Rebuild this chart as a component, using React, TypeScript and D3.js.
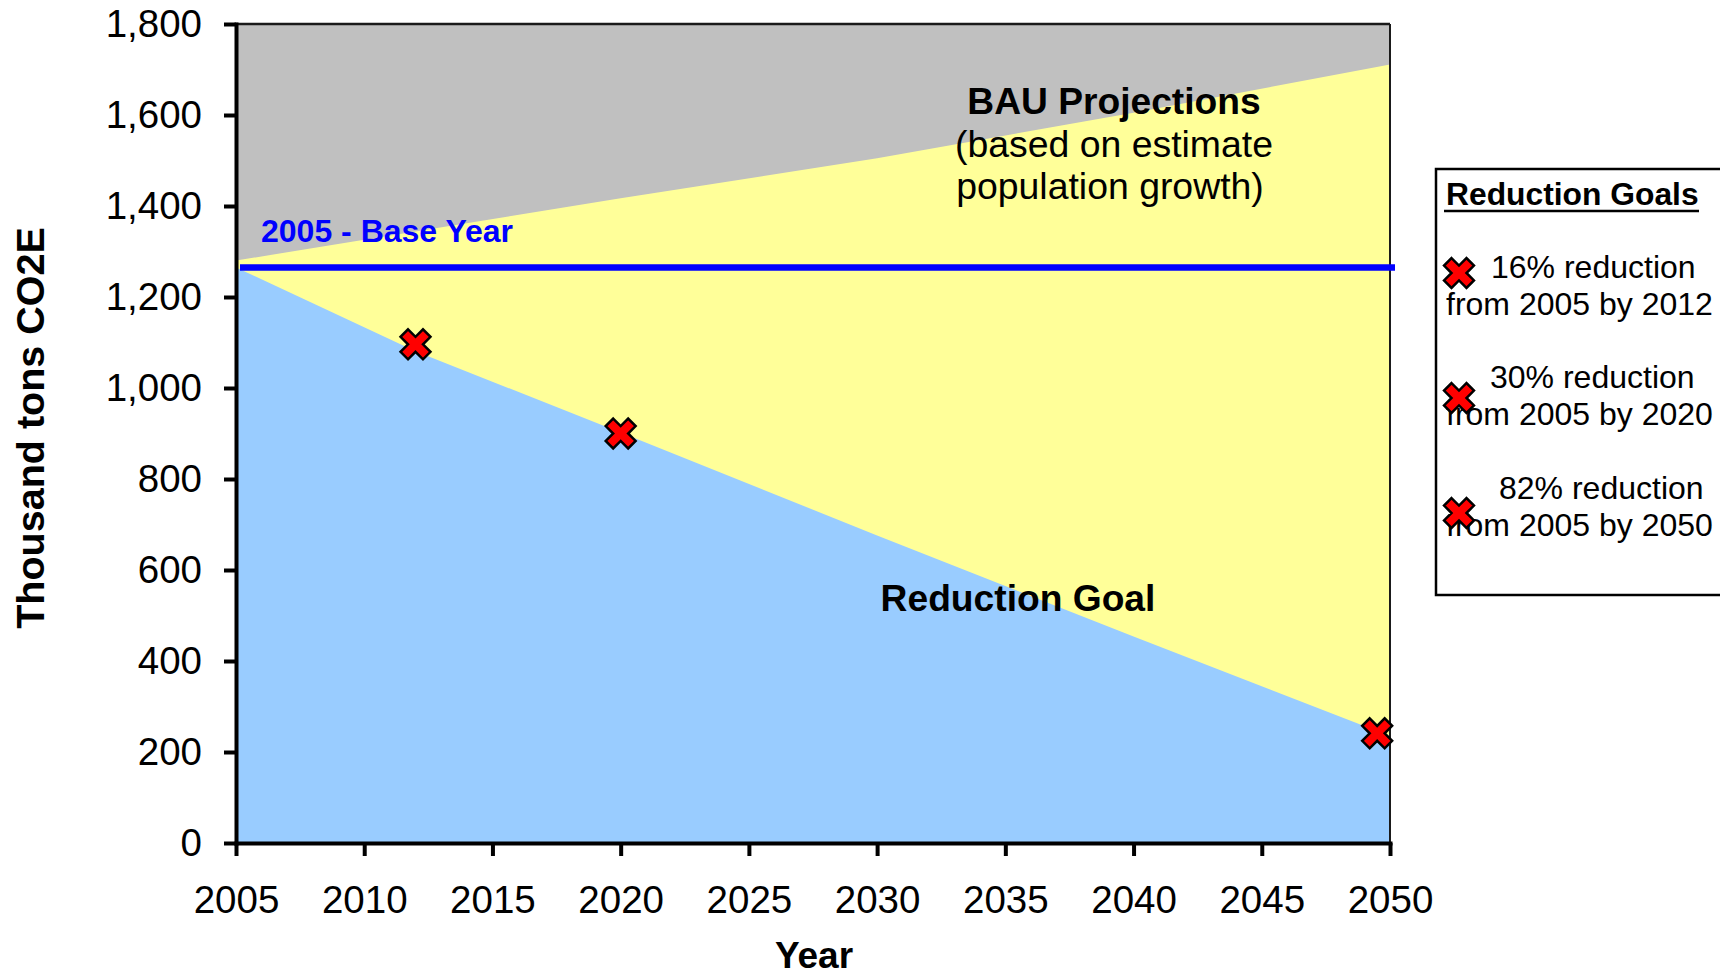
import React, { useEffect, useRef } from 'react';
import * as d3 from 'd3';

// x axis ticks (years) and y axis ticks (thousand tons)
const yearTicks = [2005, 2010, 2015, 2020, 2025, 2030, 2035, 2040, 2045, 2050];
const valueTicks = [0, 200, 400, 600, 800, 1000, 1200, 1400, 1600, 1800];

// BAU projection (yellow area)
const bauYears = [2005, 2010, 2020, 2030, 2040, 2050];
const bauValues = [1280, 1326, 1417, 1505, 1605, 1711];

// reduction goal path (blue area)
const goalYears = [2005, 2012, 2020, 2030, 2040, 2050];
const goalValues = [1265, 1081, 902, 676, 454, 235];

// 2005 base year level
const baseYearValue = 1265;

// goal markers
const markerYears = [2012, 2020, 2049.5];
const markerValues = [1096, 900, 241];

// legend
const legendFirst = ['16% reduction', '30% reduction', '82% reduction'];
const legendSecond = ['from 2005 by 2012', 'from 2005 by 2020', 'from 2005 by 2050'];

const FONT = '"Liberation Sans", Arial, sans-serif';

const App = () => {
  const axisRef = useRef<SVGGElement>(null);

  const x = d3.scaleLinear().domain([2005, 2050]).range([236, 1390]);
  const y = d3.scaleLinear().domain([0, 1800]).range([843, 24]);

  const bauData = bauYears.map((yr, i) => [yr, bauValues[i]] as [number, number]);
  const goalData = goalYears.map((yr, i) => [yr, goalValues[i]] as [number, number]);

  const area = d3.area<[number, number]>()
    .x(d => x(d[0]))
    .y0(y(0))
    .y1(d => y(d[1]));

  // thick X marker: cross rotated 45deg
  const markerPath = d3.symbol().type(d3.symbolCross).size(560)() as string;

  useEffect(() => {
    const g = d3.select(axisRef.current);
    g.selectAll('*').remove();

    const yAxis = g.append('g')
      .attr('transform', `translate(${x(2005)},0)`)
      .call(d3.axisLeft(y).tickValues(valueTicks).tickFormat(d3.format(',')).tickSize(12).tickSizeOuter(0).tickPadding(22));

    const xAxis = g.append('g')
      .attr('transform', `translate(0,${y(0)})`)
      .call(d3.axisBottom(x).tickValues(yearTicks).tickFormat(d3.format('d')).tickSize(13).tickSizeOuter(0).tickPadding(30));

    [yAxis, xAxis].forEach(a => {
      a.attr('font-family', FONT).attr('font-size', 38.5);
      a.select('.domain').attr('stroke', '#000').attr('stroke-width', 4).attr('stroke-linecap', 'square');
      a.selectAll('.tick line').attr('stroke', '#000').attr('stroke-width', 4);
      a.selectAll('.tick text').attr('fill', '#000');
    });
  }, []);

  return (
    <svg width={1720} height={977} style={{ position: 'absolute', left: 0, top: 0 }} fontFamily={FONT}>
      <rect x={0} y={0} width={1720} height={977} fill="#fff" />

      {/* plot area */}
      <rect x={x(2005)} y={y(1800)} width={x(2050) - x(2005)} height={y(0) - y(1800)} fill="#C0C0C0" />
      <path d={area(bauData) as string} fill="#FFFF99" />
      <path d={area(goalData) as string} fill="#99CCFF" />
      <line x1={x(2005)} x2={x(2050)} y1={y(1800)} y2={y(1800)} stroke="#1a1a1a" strokeWidth={2.5} />
      <line x1={x(2050)} x2={x(2050)} y1={y(1800)} y2={y(0)} stroke="#1a1a1a" strokeWidth={2} />

      {/* base year line */}
      <line x1={x(2005) + 4} x2={x(2050) + 5} y1={y(baseYearValue)} y2={y(baseYearValue)} stroke="#0000FF" strokeWidth={6.5} />

      {/* goal markers */}
      {markerYears.map((yr, i) => (
        <path key={yr} d={markerPath} transform={`translate(${x(yr)},${y(markerValues[i])}) rotate(45)`}
          fill="#FF0000" stroke="#000" strokeWidth={2.5} />
      ))}

      {/* annotations */}
      <text x={261} y={242} fontSize={32} fontWeight="bold" fill="#0000FF">2005 - Base Year</text>
      <text x={1114} y={114} fontSize={37.2} fontWeight="bold" textAnchor="middle">BAU Projections</text>
      <text x={1114} y={157} fontSize={37.4} textAnchor="middle">(based on estimate</text>
      <text x={1110} y={199} fontSize={37.4} textAnchor="middle">population growth)</text>
      <text x={1018} y={611} fontSize={37.2} fontWeight="bold" textAnchor="middle">Reduction Goal</text>

      {/* axes */}
      <g ref={axisRef} />

      {/* axis titles */}
      <text x={814} y={968} fontSize={37} fontWeight="bold" textAnchor="middle">Year</text>
      <text transform="translate(44,428) rotate(-90)" fontSize={39.5} fontWeight="bold" textAnchor="middle">Thousand tons CO2E</text>

      {/* legend */}
      <rect x={1436} y={169} width={400} height={426} fill="#fff" stroke="#000" strokeWidth={2.5} />
      <text x={1446} y={205} fontSize={31.8} fontWeight="bold">Reduction Goals</text>
      <line x1={1444} x2={1699} y1={211} y2={211} stroke="#000" strokeWidth={2.5} />
      {legendFirst.map((t, i) => {
        const rowY = [278, 388, 499][i];
        const rowX = [1491, 1490, 1499][i];
        const markY = [273, 398, 513][i];
        return (
          <g key={t}>
            <text x={rowX} y={rowY} fontSize={32}>{t}</text>
            <text x={1446} y={rowY + 37} fontSize={32}>{legendSecond[i]}</text>
            <path d={markerPath} transform={`translate(1459,${markY}) rotate(45)`} fill="#FF0000" stroke="#000" strokeWidth={2.5} />
          </g>
        );
      })}
    </svg>
  );
};

export default App;
